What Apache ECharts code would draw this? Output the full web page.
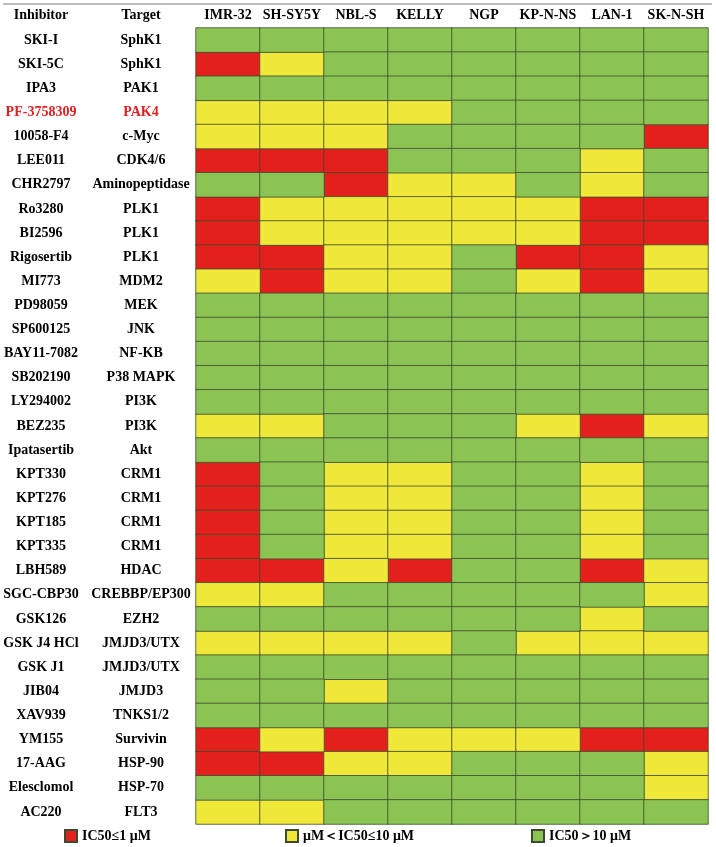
<!DOCTYPE html>
<html>
<head>
<meta charset="utf-8">
<script src="https://cdn.jsdelivr.net/npm/echarts@6/dist/echarts.min.js"></script>
<style>
  html, body { margin: 0; padding: 0; background: #fff; }
  #chart { width: 716px; height: 847px; }
</style>
</head>
<body>
<div id="chart"></div>
<script>
// cell lines (columns)
const cellLines = ['IMR-32', 'SH-SY5Y', 'NBL-S', 'KELLY', 'NGP', 'KP-N-NS', 'LAN-1', 'SK-N-SH'];

const inhibitors = ['SKI-I', 'SKI-5C', 'IPA3', 'PF-3758309', '10058-F4', 'LEE011', 'CHR2797', 'Ro3280',
  'BI2596', 'Rigosertib', 'MI773', 'PD98059', 'SP600125', 'BAY11-7082', 'SB202190', 'LY294002',
  'BEZ235', 'Ipatasertib', 'KPT330', 'KPT276', 'KPT185', 'KPT335', 'LBH589', 'SGC-CBP30',
  'GSK126', 'GSK J4 HCl', 'GSK J1', 'JIB04', 'XAV939', 'YM155', '17-AAG', 'Elesclomol', 'AC220'];

const targets = ['SphK1', 'SphK1', 'PAK1', 'PAK4', 'c-Myc', 'CDK4/6', 'Aminopeptidase', 'PLK1',
  'PLK1', 'PLK1', 'MDM2', 'MEK', 'JNK', 'NF-KB', 'P38 MAPK', 'PI3K',
  'PI3K', 'Akt', 'CRM1', 'CRM1', 'CRM1', 'CRM1', 'HDAC', 'CREBBP/EP300',
  'EZH2', 'JMJD3/UTX', 'JMJD3/UTX', 'JMJD3', 'TNKS1/2', 'Survivin', 'HSP-90', 'HSP-70', 'FLT3'];

// highlighted row
const highlight = 'PF-3758309';

// IC50 class per cell: 0 = IC50<=1 uM, 1 = 1-10 uM, 2 = >10 uM
const ic50Class = [
  [2, 2, 2, 2, 2, 2, 2, 2],
  [0, 1, 2, 2, 2, 2, 2, 2],
  [2, 2, 2, 2, 2, 2, 2, 2],
  [1, 1, 1, 1, 2, 2, 2, 2],
  [1, 1, 1, 2, 2, 2, 2, 0],
  [0, 0, 0, 2, 2, 2, 1, 2],
  [2, 2, 0, 1, 1, 2, 1, 2],
  [0, 1, 1, 1, 1, 1, 0, 0],
  [0, 1, 1, 1, 1, 1, 0, 0],
  [0, 0, 1, 1, 2, 0, 0, 1],
  [1, 0, 1, 1, 2, 1, 0, 1],
  [2, 2, 2, 2, 2, 2, 2, 2],
  [2, 2, 2, 2, 2, 2, 2, 2],
  [2, 2, 2, 2, 2, 2, 2, 2],
  [2, 2, 2, 2, 2, 2, 2, 2],
  [2, 2, 2, 2, 2, 2, 2, 2],
  [1, 1, 2, 2, 2, 1, 0, 1],
  [2, 2, 2, 2, 2, 2, 2, 2],
  [0, 2, 1, 1, 2, 2, 1, 2],
  [0, 2, 1, 1, 2, 2, 1, 2],
  [0, 2, 1, 1, 2, 2, 1, 2],
  [0, 2, 1, 1, 2, 2, 1, 2],
  [0, 0, 1, 0, 2, 2, 0, 1],
  [1, 1, 2, 2, 2, 2, 2, 1],
  [2, 2, 2, 2, 2, 2, 1, 2],
  [1, 1, 1, 1, 2, 1, 1, 1],
  [2, 2, 2, 2, 2, 2, 2, 2],
  [2, 2, 1, 2, 2, 2, 2, 2],
  [2, 2, 2, 2, 2, 2, 2, 2],
  [0, 1, 0, 1, 1, 1, 0, 0],
  [0, 0, 1, 1, 2, 2, 2, 1],
  [2, 2, 2, 2, 2, 2, 2, 1],
  [1, 1, 2, 2, 2, 2, 2, 2]
];

const classNames = ['IC50≤1 μM', 'μM＜IC50≤10 μM', 'IC50＞10 μM'];
const classColors = ['#e3201c', '#f0e839', '#8cc454'];
const legendLeft = [64, 285, 531];

const font = 'Liberation Serif, Times New Roman, serif';
const chart = echarts.init(document.getElementById('chart'));

function cellsOf(k) {
  const out = [];
  ic50Class.forEach((row, r) => {
    row.forEach((v, c) => { if (v === k) out.push([c, r, v]); });
  });
  return out;
}

function labelData(arr, hl) {
  return arr.map((name, i) => inhibitors[i] === hl
    ? { value: name, textStyle: { color: '#e02020', align: 'center', fontWeight: 'bold' } }
    : name);
}

const option = {
  backgroundColor: '#fff',
  animation: false,
  grid: { left: 196, right: 8, top: 28, bottom: 23, outerBoundsMode: 'none', containLabel: false },
  xAxis: {
    type: 'category',
    position: 'top',
    data: cellLines,
    axisLine: { show: false },
    axisTick: { show: false },
    splitLine: { show: false },
    axisLabel: {
      margin: 13, verticalAlign: 'middle', interval: 0,
      fontFamily: font, fontWeight: 'bold', fontSize: 14, color: '#000'
    }
  },
  yAxis: [{
    type: 'category',
    inverse: true,
    data: labelData(inhibitors, highlight),
    axisLine: { show: false },
    axisTick: { show: false },
    splitLine: { show: false },
    axisLabel: {
      margin: 155, align: 'center', interval: 0,
      fontFamily: font, fontWeight: 'bold', fontSize: 14, color: '#000'
    }
  }, {
    type: 'category',
    position: 'left',
    inverse: true,
    data: labelData(targets, highlight),
    axisLine: { show: false },
    axisTick: { show: false },
    splitLine: { show: false },
    axisLabel: {
      margin: 55, align: 'center', interval: 0,
      fontFamily: font, fontWeight: 'bold', fontSize: 14, color: '#000'
    }
  }],
  legend: classNames.map((name, k) => ({
    data: [name],
    left: legendLeft[k],
    top: 829,
    padding: 0,
    icon: 'rect',
    itemWidth: 12,
    itemHeight: 12,
    itemGap: 0,
    selectedMode: false,
    textStyle: { fontFamily: font, fontWeight: 'bold', fontSize: 14, color: '#000' }
  })),
  graphic: [
    { type: 'line', shape: { x1: 3, y1: 4, x2: 712, y2: 4 }, style: { stroke: '#a8a8a8', lineWidth: 1.5 } },
    { type: 'text', x: 41, y: 15, style: { text: 'Inhibitor', font: 'bold 14px ' + font, fill: '#000', align: 'center', verticalAlign: 'middle' } },
    { type: 'text', x: 141, y: 15, style: { text: 'Target', font: 'bold 14px ' + font, fill: '#000', align: 'center', verticalAlign: 'middle' } }
  ],
  series: classNames.map((name, k) => ({
    name: name,
    type: 'heatmap',
    xAxisIndex: 0,
    yAxisIndex: 0,
    data: cellsOf(k),
    itemStyle: {
      color: classColors[k],
      borderColor: '#3e4a30',
      borderWidth: 0.8
    },
    emphasis: { disabled: true }
  }))
};

chart.setOption(option);
</script>
</body>
</html>
